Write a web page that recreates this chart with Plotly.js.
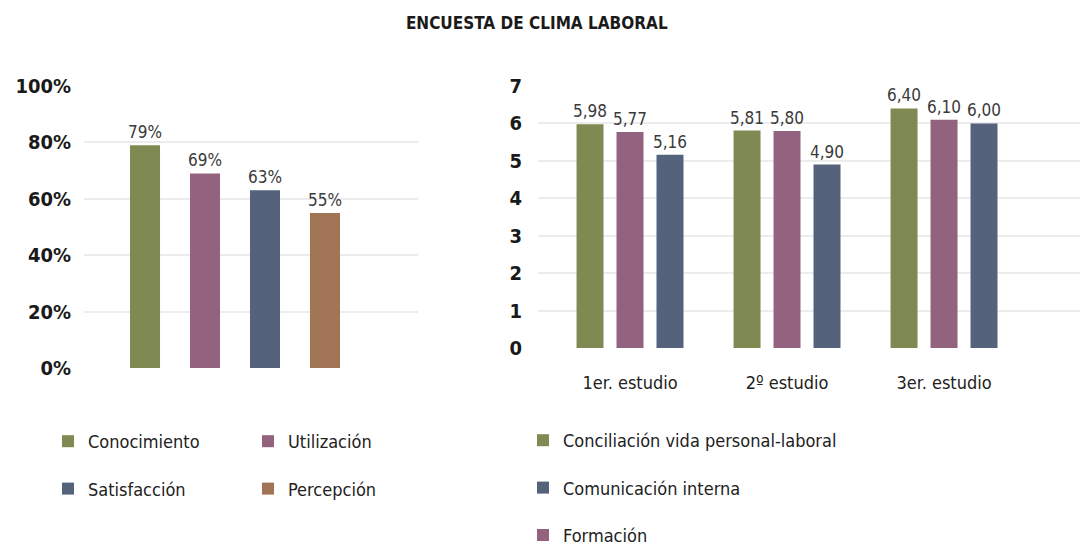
<!DOCTYPE html>
<html>
<head>
<meta charset="utf-8">
<script src="https://cdn.plot.ly/plotly-3.0.1.min.js"></script>
<style>html,body{margin:0;padding:0;background:#fff;}#chart{width:1080px;height:546px;}</style>
</head>
<body>
<div id="chart"></div>
<script>
// Left chart data
const leftCategories = ["Conocimiento", "Utilización", "Satisfacción", "Percepción"];
const leftValues = [79, 69, 63, 55];
const leftColors = ["#7f8a52", "#93627e", "#55627c", "#a07454"];
const leftLegendSlot = ["legend", "legend2", "legend", "legend2"];

// Right chart data
const studies = ["1er. estudio", "2º estudio", "3er. estudio"];
const seriesNames = ["Conciliación vida personal-laboral", "Formación", "Comunicación interna"];
const conciliacion = [5.98, 5.81, 6.40];
const formacion = [5.77, 5.80, 6.10];
const comunicacion = [5.16, 4.90, 6.00];
const rightColors = ["#7f8a52", "#93627e", "#55627c"];
const rightLegendRank = [1, 3, 2];

const FONT = "'DejaVu Sans Condensed', 'Liberation Sans Narrow', sans-serif";
const traces = [];

leftCategories.forEach((c, i) => {
  traces.push({
    type: "bar", x: [c], y: [leftValues[i]], name: c,
    xaxis: "x", yaxis: "y",
    width: 0.5, offset: -0.25,
    marker: {color: leftColors[i]},
    text: [leftValues[i] + "%"], textposition: "outside", constraintext: "none",
    textfont: {family: FONT, size: 17, color: "#3a3a3a"},
    cliponaxis: false,
    legend: leftLegendSlot[i], legendgroup: "l" + i,
    hoverinfo: "x+y"
  });
});

const rightSeries = [conciliacion, formacion, comunicacion];
rightSeries.forEach((vals, i) => {
  traces.push({
    type: "bar", x: studies, y: vals, name: seriesNames[i],
    xaxis: "x2", yaxis: "y2",
    marker: {color: rightColors[i]},
    texttemplate: "%{y:.2f}", textposition: "outside", constraintext: "none",
    textfont: {family: FONT, size: 17, color: "#3a3a3a"},
    cliponaxis: false,
    legend: "legend3", legendgroup: "r" + i, legendrank: rightLegendRank[i]
  });
});

const W = 1080, H = 546;
const legendCommon = {
  orientation: "v", traceorder: "grouped", tracegroupgap: 21,
  font: {family: FONT, size: 18, color: "#222"},
  bgcolor: "rgba(0,0,0,0)", itemwidth: 30, itemclick: false,
  xanchor: "left", yanchor: "top"
};

const layout = {
  width: W, height: H,
  margin: {l: 0, r: 0, t: 0, b: 0, autoexpand: false},
  paper_bgcolor: "#fff", plot_bgcolor: "#fff",
  separators: ",.",
  font: {family: FONT, color: "#222"},
  title: {text: "ENCUESTA DE CLIMA LABORAL", x: 0.497, xanchor: "center", y: 0.958, yanchor: "middle",
          font: {family: FONT, size: 17, color: "#1a1a1a", weight: 600}},
  barmode: "group", bargap: 0.236, bargroupgap: 0.325,
  showlegend: true,
  xaxis: {domain: [84 / W, 418 / W], range: [-1.017, 4.55], type: "category",
          showticklabels: false, showgrid: false, zeroline: false, showline: false, fixedrange: true},
  yaxis: {domain: [(H - 368) / H, (H - 86) / H], range: [0, 100], dtick: 20, ticksuffix: "%",
          showgrid: true, gridcolor: "#ececec", gridwidth: 2, zeroline: false, showline: false,
          ticks: "", ticklabelstandoff: 12,
          tickfont: {family: FONT, size: 20, color: "#1a1a1a", weight: 600}},
  xaxis2: {domain: [538 / W, 1], range: [-0.586, 2.866], type: "category", anchor: "y2",
           showgrid: false, zeroline: false, showline: false, ticks: "", ticklabelstandoff: 22,
           tickfont: {family: FONT, size: 18, color: "#222"}},
  yaxis2: {domain: [(H - 348) / H, (H - 86) / H], range: [0, 7], dtick: 1, anchor: "x2",
           showgrid: true, gridcolor: "#ececec", gridwidth: 2, zeroline: false, showline: false,
           ticks: "", ticklabelstandoff: 15,
           tickfont: {family: FONT, size: 20, color: "#1a1a1a", weight: 600}},
  legend: Object.assign({}, legendCommon, {x: 48 / W, y: 1 - 423 / H}),
  legend2: Object.assign({}, legendCommon, {x: 248 / W, y: 1 - 423 / H}),
  legend3: Object.assign({}, legendCommon, {x: 523 / W, y: 1 - 422 / H})
};

Plotly.newPlot("chart", traces, layout, {displayModeBar: false, staticPlot: true});
</script>
</body>
</html>
